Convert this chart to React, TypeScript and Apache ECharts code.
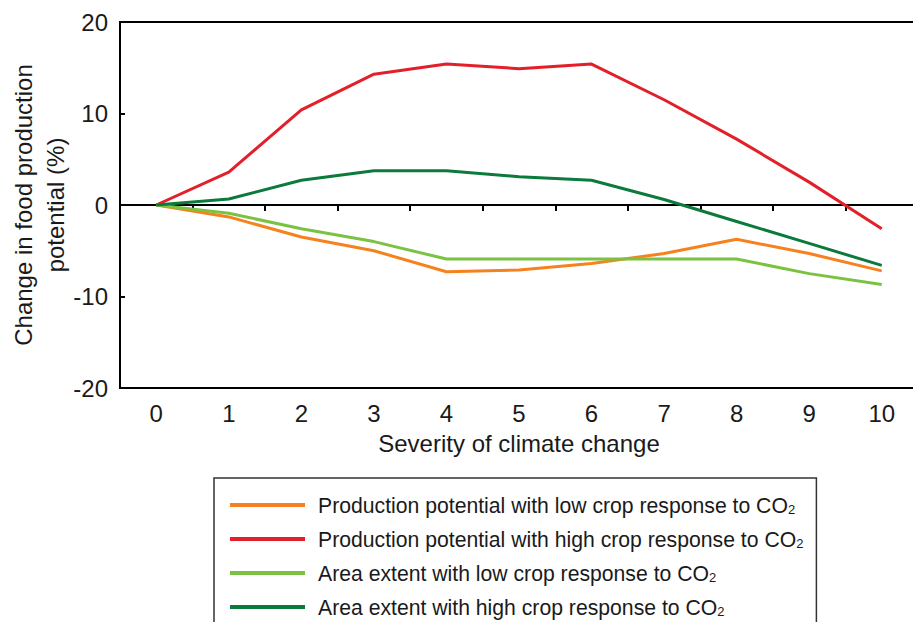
import React, { useEffect, useRef } from "react";
import * as echarts from "echarts";

const categories = ["0", "1", "2", "3", "4", "5", "6", "7", "8", "9", "10"];
const prodLow = [0, -1.3, -3.5, -5.0, -7.3, -7.1, -6.4, -5.3, -3.75, -5.3, -7.2];
const prodHigh = [0, 3.6, 10.4, 14.3, 15.4, 14.9, 15.4, 11.5, 7.2, 2.5, -2.6];
const areaLow = [0, -0.9, -2.6, -4.0, -5.9, -5.9, -5.9, -5.9, -5.9, -7.5, -8.7];
const areaHigh = [0, 0.65, 2.7, 3.75, 3.75, 3.1, 2.7, 0.6, -1.8, -4.2, -6.6];
const seriesNames = [
  "Production potential with low crop response to CO2",
  "Production potential with high crop response to CO2",
  "Area extent with low crop response to CO2",
  "Area extent with high crop response to CO2",
];
const seriesColors = ["#f5821f", "#e3202a", "#7cc242", "#0c7a3c"];
const yTicks = { min: -20, max: 20, interval: 10 };
const xName = "Severity of climate change";
const yName = "Change in food production\npotential (%)";

const FONT = "'Liberation Sans', Arial, Helvetica, sans-serif";
const TXT = "#1a1a1a";

export default function App() {
  const ref = useRef<HTMLDivElement>(null);
  useEffect(() => {
    if (!ref.current) return;
    const chart = echarts.init(ref.current, null, { renderer: "svg" });
    const values = [prodLow, prodHigh, areaLow, areaHigh];
    chart.setOption({
      animation: false,
      backgroundColor: "#ffffff",
      textStyle: { fontFamily: FONT },
      grid: {
        left: 120,
        top: 22,
        width: 798,
        height: 366,
        show: true,
        borderColor: "#000",
        borderWidth: 2,
        backgroundColor: "transparent",
        containLabel: false,
        outerBoundsMode: "none",
      },
      legend: {
        show: true,
        orient: "vertical",
        left: 214,
        top: 478,
        height: 220,
        padding: [16, 13, 30, 16],
        borderColor: "#333",
        borderWidth: 1.5,
        itemWidth: 75,
        itemHeight: 4,
        itemGap: 12,
        icon: "rect",
        data: seriesNames,
        formatter: (n: string) => n.replace("CO2", "CO{sub|2}"),
        textStyle: {
          fontSize: 21.2,
          lineHeight: 22,
          color: TXT,
          fontFamily: FONT,
          padding: [0, 0, 0, 8],
          rich: {
            sub: { fontSize: 13, lineHeight: 13, verticalAlign: "bottom", color: TXT, fontFamily: FONT },
          },
        },
      },
      xAxis: [
        {
          type: "category",
          data: categories,
          position: "bottom",
          boundaryGap: true,
          axisLine: { show: false, onZero: false },
          axisTick: { show: false },
          splitLine: { show: false },
          axisLabel: { fontSize: 24, color: TXT, margin: 13, fontFamily: FONT },
          name: xName,
          nameLocation: "middle",
          nameGap: 43,
          nameMoveOverlap: false,
          nameTextStyle: { fontSize: 24, color: TXT, fontFamily: FONT },
        },
        {
          type: "category",
          data: categories,
          position: "top",
          boundaryGap: true,
          axisLine: { show: true, onZero: true, lineStyle: { color: "#000", width: 2 } },
          axisTick: { show: true, inside: true, length: 6, lineStyle: { color: "#000", width: 2 } },
          axisLabel: { show: false },
          splitLine: { show: false },
        },
      ],
      yAxis: {
        type: "value",
        min: yTicks.min,
        max: yTicks.max,
        interval: yTicks.interval,
        axisLine: { show: false },
        axisTick: { show: true, inside: true, length: 5, lineStyle: { color: "#000", width: 2 } },
        splitLine: { show: false },
        axisLabel: { fontSize: 24, color: TXT, margin: 12, fontFamily: FONT },
        name: yName,
        nameLocation: "middle",
        nameRotate: 90,
        nameGap: 49,
        nameMoveOverlap: false,
        nameTextStyle: { fontSize: 24, lineHeight: 32, color: TXT, fontFamily: FONT },
      },
      series: seriesNames.map((name, i) => ({
        name,
        type: "line",
        data: values[i],
        xAxisIndex: 0,
        symbol: "none",
        color: seriesColors[i],
        lineStyle: { width: 3, color: seriesColors[i] },
      })),
    });
    return () => chart.dispose();
  }, []);
  return (
    <div
      ref={ref}
      style={{ position: "absolute", left: 0, top: 0, width: 913, height: 622 }}
    />
  );
}
